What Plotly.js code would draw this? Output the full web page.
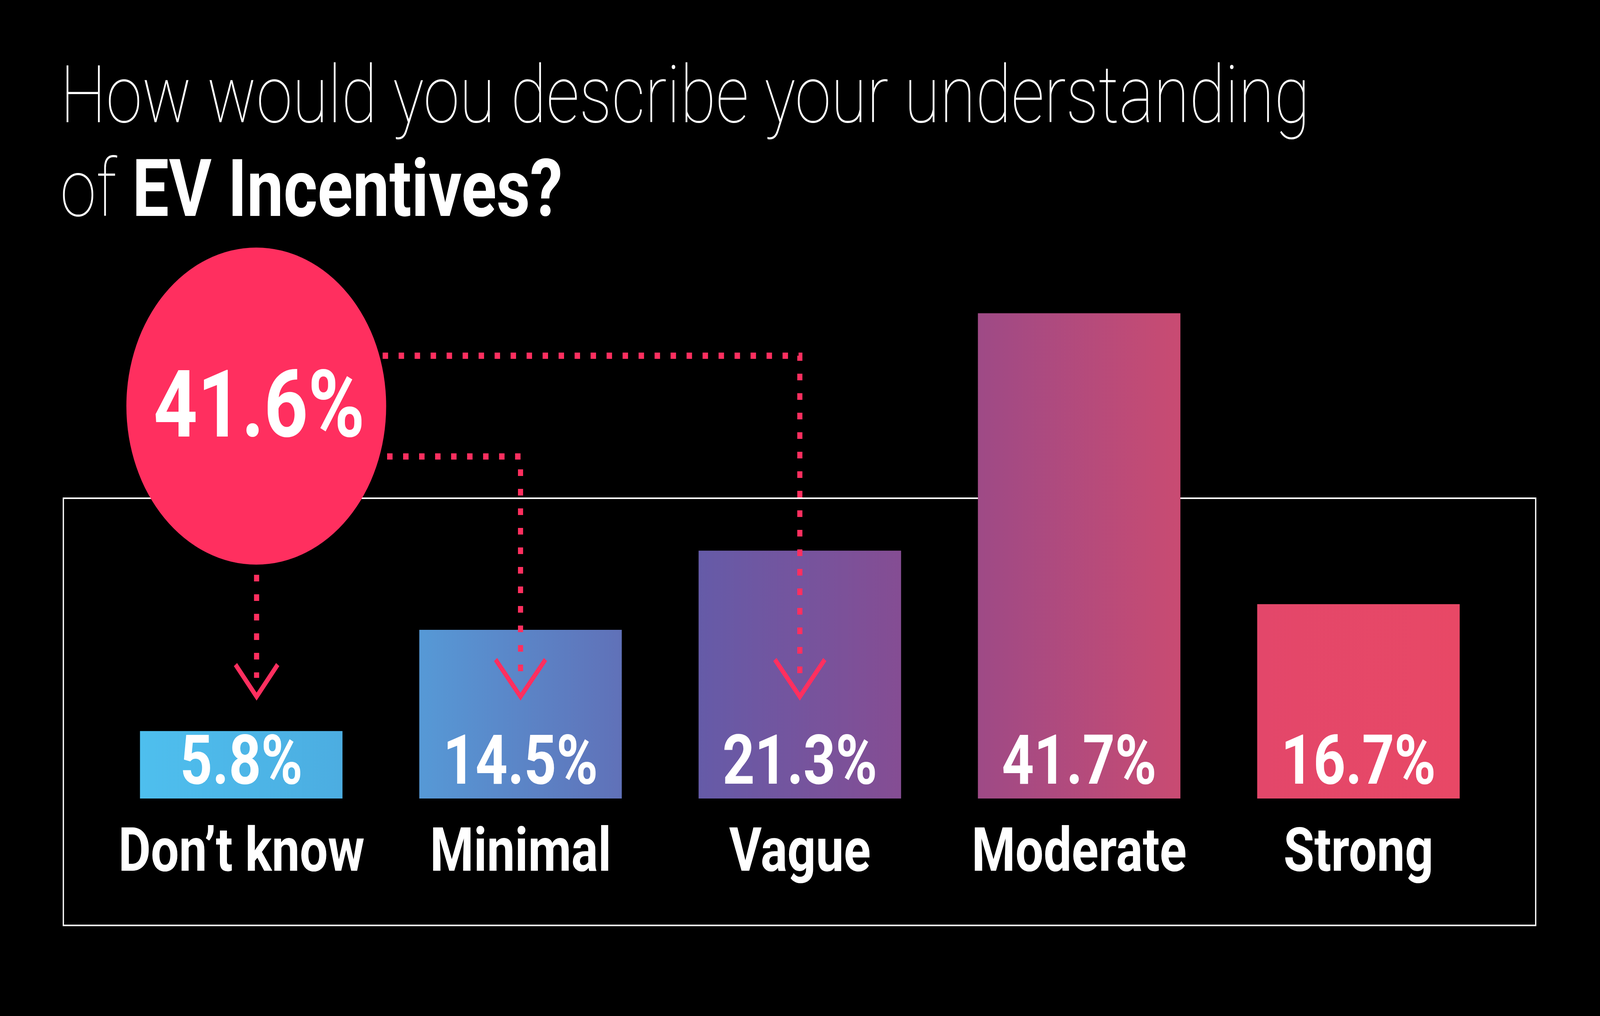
<!DOCTYPE html>
<html>
<head>
<meta charset="utf-8">
<script src="https://cdn.plot.ly/plotly-3.0.1.min.js"></script>
<style>
html,body{margin:0;padding:0;background:#000;overflow:hidden;}
#chart{width:5001px;height:2602px;transform-origin:0 0;}
</style>
</head>
<body>
<div id="chart"></div>
<script>
// ---- data ----
const categories = ["Don\u2019t know", "Minimal", "Vague", "Moderate", "Strong"];
const values = [5.8, 14.5, 21.3, 41.7, 16.7];
const valueLabels = ["5.8%", "14.5%", "21.3%", "41.7%", "16.7%"];
const highlighted = [0, 1, 2];   // bars summed in the callout circle
const titleLine1 = "How would you describe your understanding";
const titleLine2a = "of ";
const titleLine2b = "EV Incentives?";

// ---- fit the 5001x2602 design into whatever viewport the browser really has ----
const W = 5001, H = 2602;
const sx = (window.innerWidth || W) / W, sy = (window.innerHeight || H) / H;
document.getElementById("chart").style.transform = `scale(${sx}, ${sy})`;

// ---- layout helpers (pixel -> paper) ----
const px = x => x / W;
const py = y => 1 - y / H;
const pink = "#FF2F5F";
const half = 0.3625;

// bar polygons built from the data
const bx = [], by = [];
values.forEach((v, i) => {
  bx.push(i - half, i + half, i + half, i - half, i - half, null);
  by.push(0, 0, v, v, 0, null);
});

const barTrace = {
  type: "scatter", mode: "lines", x: bx, y: by,
  fill: "toself", line: {width: 0, color: "rgba(0,0,0,0)"},
  fillgradient: {
    type: "horizontal", start: -half, stop: values.length - 1 + half,
    colorscale: [
      [0.000, "#4EBFEE"], [0.153, "#4CADE1"], [0.212, "#5699D6"],
      [0.365, "#6071B8"], [0.423, "#655BA8"], [0.577, "#854D93"],
      [0.635, "#9E4A86"], [0.789, "#C94B72"], [0.847, "#E3476A"],
      [1.000, "#E84866"]
    ]
  },
  hoverinfo: "skip", showlegend: false
};

const total = highlighted.reduce((s, i) => s + values[i], 0);

const annotations = [];
// title
annotations.push({
  xref: "paper", yref: "paper", x: px(186), y: py(243), xanchor: "left", yanchor: "middle",
  text: titleLine1, showarrow: false,
  font: {family: "Roboto", size: 204, color: "#fff", weight: 100}
});
annotations.push({
  xref: "paper", yref: "paper", x: px(186), y: py(484), xanchor: "left", yanchor: "middle",
  text: titleLine2a + "<b>" + titleLine2b + "</b>", showarrow: false,
  font: {family: "Roboto", size: 204, color: "#fff", weight: 100}
});
// value & category labels
values.forEach((v, i) => {
  annotations.push({
    xref: "x", yref: "paper", x: i, y: py(1947), xanchor: "center", yanchor: "middle",
    text: "<b>" + valueLabels[i] + "</b>", showarrow: false,
    font: {family: "Roboto", size: 176, color: "#fff"}
  });
  annotations.push({
    xref: "x", yref: "paper", x: i, y: py(2176), xanchor: "center", yanchor: "middle",
    text: "<b>" + categories[i] + "</b>", showarrow: false,
    font: {family: "Roboto", size: 156, color: "#fff"}
  });
});
// callout circle text
annotations.push({
  xref: "paper", yref: "paper", x: px(810), y: py(1036), xanchor: "center", yanchor: "middle",
  text: "<b>" + total.toFixed(1) + "%</b>", showarrow: false,
  font: {family: "Roboto", size: 240, color: "#fff"}
});

const dotted = {color: pink, width: 16, dash: "17px,33px"};
const chev = {color: pink, width: 13};
function chevron(cx, top, tip, hw) {
  return {type: "path", xref: "paper", yref: "paper", layer: "above",
    path: `M ${px(cx - hw)},${py(top)} L ${px(cx)},${py(tip)} L ${px(cx + hw)},${py(top)}`,
    line: chev};
}
// x pixel of a bar center
const cxPix = i => 754 + 873 * i;

const shapes = [
  // frame
  {type: "rect", xref: "paper", yref: "paper", layer: "below",
   x0: px(198), x1: px(4800), y0: py(2370), y1: py(1276),
   line: {color: "#fff", width: 4}, fillcolor: "rgba(0,0,0,0)"},
  // dotted connectors
  {type: "path", xref: "paper", yref: "paper", layer: "above",
   path: `M ${px(1196)},${py(911)} L ${px(cxPix(2))},${py(911)} L ${px(cxPix(2))},${py(1728)}`,
   line: dotted},
  {type: "path", xref: "paper", yref: "paper", layer: "above",
   path: `M ${px(1210)},${py(1169)} L ${px(cxPix(1))},${py(1169)} L ${px(cxPix(1))},${py(1728)}`,
   line: dotted},
  {type: "path", xref: "paper", yref: "paper", layer: "above",
   path: `M ${px(802)},${py(1472)} L ${px(802)},${py(1736)}`,
   line: dotted},
  // chevrons
  chevron(802, 1702, 1784, 66),
  chevron(cxPix(1), 1689, 1784, 78),
  chevron(cxPix(2), 1689, 1784, 78),
  // callout circle
  {type: "circle", xref: "paper", yref: "paper", layer: "above",
   x0: px(395), x1: px(1207), y0: py(1446), y1: py(634),
   fillcolor: pink, line: {width: 0}}
];

const layout = {
  width: W, height: H,
  margin: {l: 0, r: 0, t: 0, b: 0, pad: 0},
  paper_bgcolor: "#000", plot_bgcolor: "#000",
  showlegend: false,
  xaxis: {range: [-754 / 873, (W - 754) / 873], visible: false, fixedrange: true},
  yaxis: {range: [(2045 - H) / 29.8, 2045 / 29.8], visible: false, fixedrange: true},
  annotations: annotations,
  shapes: shapes
};

Plotly.newPlot("chart", [barTrace], layout, {staticPlot: true, displayModeBar: false});
</script>
</body>
</html>
